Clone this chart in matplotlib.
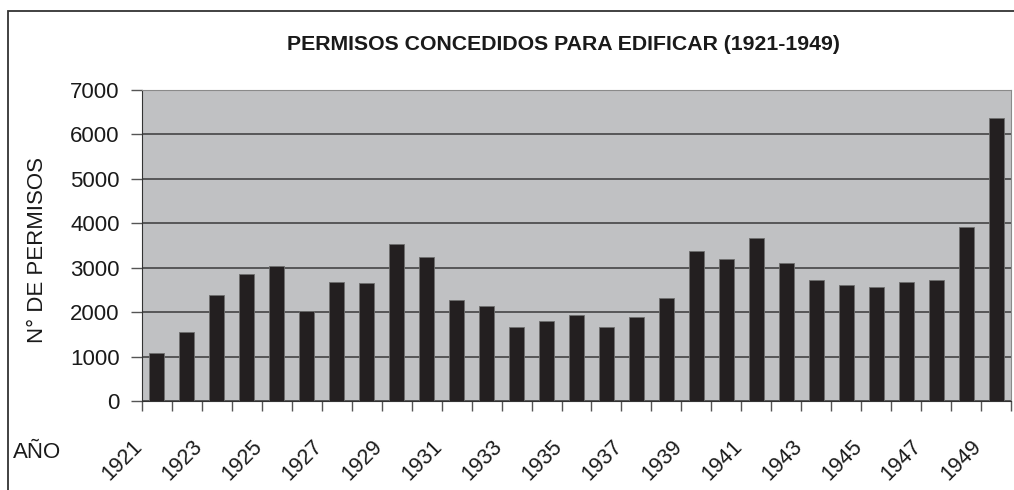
import numpy as np
import matplotlib
matplotlib.use("Agg")
import matplotlib.pyplot as plt
from matplotlib.patches import Rectangle
from matplotlib.transforms import ScaledTranslation

years = list(range(1921, 1950))
permisos = [1070, 1545, 2385, 2860, 3030, 2020, 2685, 2650, 3535, 3235,
            2265, 2140, 1675, 1800, 1930, 1675, 1885, 2310, 3370, 3195,
            3660, 3115, 2730, 2605, 2560, 2685, 2730, 3915, 6370]
y_ticks = [0, 1000, 2000, 3000, 4000, 5000, 6000, 7000]
title = "PERMISOS CONCEDIDOS PARA EDIFICAR (1921-1949)"

plt.rcParams['font.family'] = ['Liberation Sans', 'DejaVu Sans']

W, H = 1014, 490
fig = plt.figure(figsize=(W / 100, H / 100), dpi=100)
ax = fig.add_axes([142 / W, 1 - 401 / H, (1011 - 142) / W, (401 - 90) / H])

# outer frame (only left and top edges visible in the original)
fig.patches.append(Rectangle((8 / W, -0.1), 1.2, 1 - 11 / H + 0.1,
                             transform=fig.transFigure, fill=False,
                             edgecolor='#333333', linewidth=1.3))

x = np.arange(len(years))
ax.set_facecolor('#c0c1c3')
ax.bar(x, permisos, width=0.5, color='#231f20', edgecolor='#6e6e6e',
       linewidth=0.6, zorder=3)

ax.set_xlim(-0.5, len(years) - 0.5)
ax.set_ylim(0, 7000)
ax.set_yticks(y_ticks)
ax.set_yticklabels([str(v) for v in y_ticks], fontsize=16, color='#1a1a1a')
ax.yaxis.grid(True, color='#3a3a3a', linewidth=1.1, zorder=1)
ax.tick_params(axis='y', length=8, width=1, color='#555555', pad=8)

# tick marks between categories, labels on every other year
ax.set_xticks(np.arange(len(years) + 1) - 0.5)
ax.set_xticklabels([])
ax.tick_params(axis='x', which='major', length=7, width=1, color='#555555')
ax.set_xticks(x[::2], minor=True)
ax.set_xticklabels([str(y) for y in years[::2]], minor=True, rotation=45,
                   ha='right', fontsize=15.5, color='#1a1a1a')
ax.tick_params(axis='x', which='minor', length=0, pad=25)
off = ScaledTranslation(-10 / 100, 0, fig.dpi_scale_trans)
for lab in ax.get_xticklabels(minor=True):
    lab.set_transform(lab.get_transform() + off)

ax.spines['left'].set_color('#333333')
ax.spines['bottom'].set_color('#333333')
ax.spines['top'].set_color('#8a8a8a')
ax.spines['right'].set_color('#8a8a8a')

fig.text(563 / W, 1 - 45 / H, title, ha='center', va='center',
         fontsize=15.3, fontweight='bold', color='#1a1a1a')
fig.text(38 / W, 1 - 250 / H, "N° DE PERMISOS", rotation=90, ha='center',
         va='center', fontsize=16, color='#1a1a1a')
fig.text(13 / W, 1 - 452 / H, "AÑO", ha='left', va='center',
         fontsize=16, color='#1a1a1a')

fig.savefig("out.png", dpi=100, facecolor='white')
